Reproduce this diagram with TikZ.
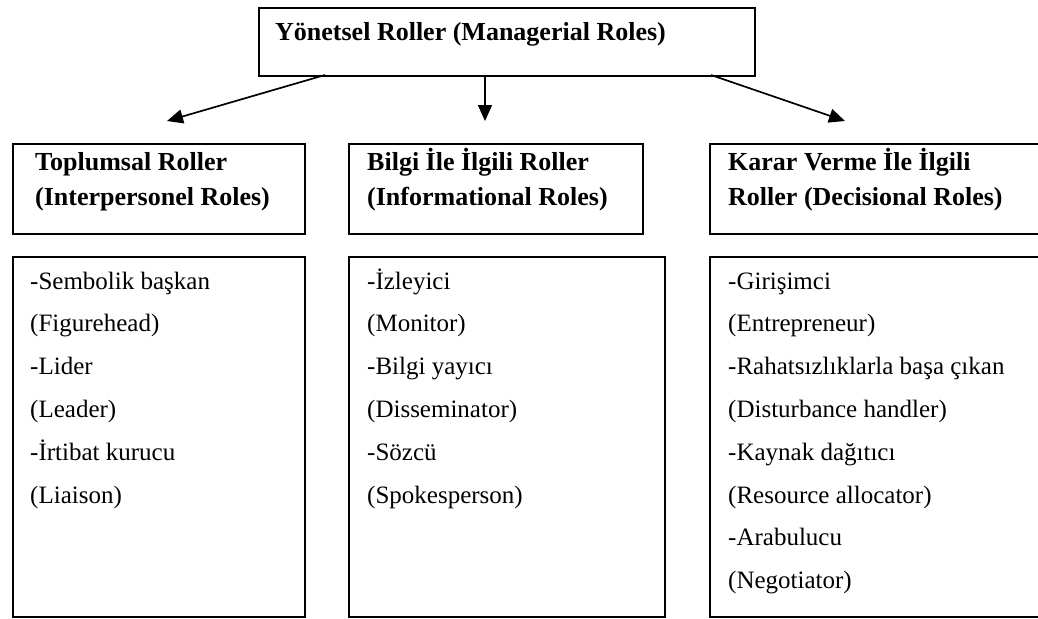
\documentclass[tikz,border=0pt]{standalone}
\usepackage{fontspec}
\setmainfont{Liberation Serif}
\usetikzlibrary{arrows.meta}
\begin{document}
\begin{tikzpicture}[x=1pt,y=-1pt,
  frame/.style={draw=black, line width=1.8pt, inner sep=0pt, anchor=north west},
  head/.style={inner sep=0pt, anchor=base west, font=\bfseries\fontsize{26}{30}\selectfont},
  body/.style={inner sep=0pt, anchor=base west, font=\fontsize{25}{30}\selectfont},
  link/.style={line width=1.7pt, -{Triangle[length=16pt,width=14pt]}}]
\useasboundingbox (0,0) rectangle (1038,618);
% top box
\node[frame, minimum width=496pt, minimum height=68pt] (top) at (258,7) {};
\node[head] (title) at (275,41) {Yönetsel Roller (Managerial Roles)};
% heading boxes
\node[frame, minimum width=292pt, minimum height=90pt] (h1) at (12,143) {};
\node[frame, minimum width=294pt, minimum height=90pt] (h2) at (348,143) {};
\node[frame, minimum width=400pt, minimum height=90pt] (h3) at (709,143) {};
\node[head] (h1a) at (35,170) {Toplumsal Roller};
\node[head] (h1b) at (35,205) {(Interpersonel Roles)};
\node[head] (h2a) at (367,170) {Bilgi İle İlgili Roller};
\node[head] (h2b) at (367,205) {(Informational Roles)};
\node[head] (h3a) at (728,170) {Karar Verme İle İlgili};
\node[head] (h3b) at (728,205) {Roller (Decisional Roles)};
% content boxes
\node[frame, minimum width=292pt, minimum height=360pt] (c1) at (12,256) {};
\node[frame, minimum width=316pt, minimum height=360pt] (c2) at (348,256) {};
\node[frame, minimum width=400pt, minimum height=360pt] (c3) at (709,256) {};
\foreach \t [count=\i] in {-Sembolik başkan,(Figurehead),-Lider,(Leader),-İrtibat kurucu,(Liaison)}
  \node[body] (p\i) at (30,{289+42.8*(\i-1)}) {\t};
\foreach \t [count=\i] in {-İzleyici,(Monitor),-Bilgi yayıcı,(Disseminator),-Sözcü,(Spokesperson)}
  \node[body] (q\i) at (367,{289+42.8*(\i-1)}) {\t};
\foreach \t [count=\i] in {-Girişimci,(Entrepreneur),-Rahatsızlıklarla başa çıkan,(Disturbance handler),-Kaynak dağıtıcı,(Resource allocator),-Arabulucu,(Negotiator)}
  \node[body] (r\i) at (728,{289+42.8*(\i-1)}) {\t};
% arrows
\coordinate (s1) at (325,75);
\coordinate (s2) at (485,75);
\coordinate (s3) at (711,75);
\coordinate (e1) at (167,121);
\coordinate (e2) at (485,121);
\coordinate (e3) at (845,121);
\draw[link] (s1) -- (e1);
\draw[link] (s2) -- (e2);
\draw[link] (s3) -- (e3);
\end{tikzpicture}
\end{document}
